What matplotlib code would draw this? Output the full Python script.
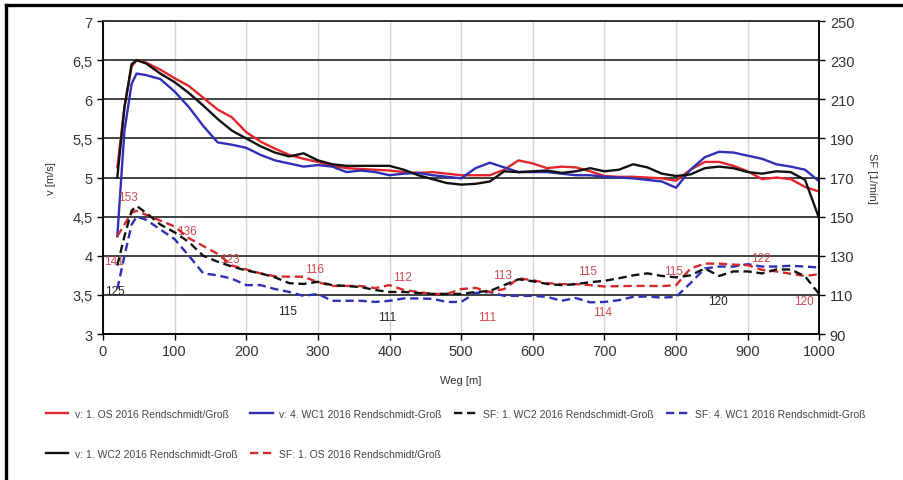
import matplotlib
matplotlib.use("Agg")
import matplotlib.pyplot as plt
from matplotlib.lines import Line2D

plt.rcParams['font.family'] = ['Liberation Sans Narrow', 'Liberation Sans', 'DejaVu Sans']

# distance along the course [m]
weg = [20, 30, 40, 47, 60, 80, 100, 120, 140, 160, 180, 200, 220, 240, 260, 280,
       300, 320, 340, 360, 380, 400, 420, 440, 460, 480, 500, 520, 540, 560, 580,
       600, 620, 640, 660, 680, 700, 720, 740, 760, 780, 800, 820, 840, 860, 880,
       900, 920, 940, 960, 980, 1000]

# boat speed [m/s]
v_os = [5.13, 5.9, 6.42, 6.5, 6.47, 6.38, 6.27, 6.17, 6.02, 5.87, 5.77, 5.58, 5.46,
        5.37, 5.29, 5.24, 5.2, 5.15, 5.12, 5.11, 5.1, 5.09, 5.07, 5.06, 5.07, 5.05,
        5.03, 5.03, 5.03, 5.1, 5.22, 5.18, 5.12, 5.14, 5.13, 5.08, 5.02, 5.01, 5.01,
        5.0, 4.99, 4.96, 5.1, 5.2, 5.2, 5.15, 5.08, 4.98, 5.0, 4.98, 4.88, 4.82]
v_wc1 = [4.25, 5.6, 6.2, 6.33, 6.31, 6.26, 6.1, 5.9, 5.66, 5.45, 5.42, 5.38, 5.29,
         5.22, 5.18, 5.14, 5.16, 5.14, 5.07, 5.09, 5.07, 5.03, 5.05, 5.06, 5.03,
         5.01, 4.99, 5.12, 5.19, 5.13, 5.07, 5.07, 5.07, 5.05, 5.03, 5.03, 5.01,
         5.0, 4.99, 4.97, 4.95, 4.87, 5.1, 5.26, 5.33, 5.32, 5.28, 5.24, 5.17, 5.14,
         5.1, 4.95]
v_wc2 = [5.0, 5.9, 6.45, 6.5, 6.46, 6.33, 6.22, 6.08, 5.92, 5.75, 5.6, 5.5, 5.4,
         5.32, 5.27, 5.31, 5.22, 5.17, 5.15, 5.15, 5.15, 5.15, 5.1, 5.03, 4.98,
         4.93, 4.91, 4.92, 4.95, 5.08, 5.07, 5.08, 5.09, 5.06, 5.08, 5.12, 5.08,
         5.1, 5.17, 5.13, 5.05, 5.02, 5.04, 5.12, 5.14, 5.12, 5.07, 5.05, 5.08,
         5.07, 4.97, 4.47]

# stroke rate [1/min]
sf_os = [140, 146, 152, 153, 151, 148, 145, 139, 135, 131, 125, 123, 121, 119.5,
         119.3, 119.3, 116.5, 114.6, 114.6, 114.5, 113.5, 115, 112.5, 111.5, 110.5,
         110.5, 113, 113.6, 111.5, 113, 118.5, 117.5, 116, 115.5, 115.5, 115, 114.3,
         114.5, 114.6, 114.6, 114.5, 115, 123.5, 126, 126, 125.5, 125.2, 122.8, 122,
         120.8, 119.7, 120.6]
sf_wc2 = [125, 140, 153, 155.5, 152, 146, 142, 137, 130, 127, 124.5, 122.5, 121,
          119, 116, 115.6, 116.7, 115, 114.6, 114, 112.5, 111.5, 111.5, 111, 110.5,
          110.5, 110.5, 111.5, 112, 115, 118, 117, 115.6, 115, 115.5, 116.5, 117.2,
          118.5, 120, 121, 119.7, 119, 120, 123.5, 119.7, 122, 122, 121, 123, 123,
          119.5, 110.3]
sf_wc1 = [113, 130, 146, 150, 148.5, 143.5, 138.5, 130, 121, 120, 118.3, 115, 115,
          113, 111.5, 109.5, 110.5, 107, 107, 107, 106.4, 107, 108.2, 108.2, 108,
          106.4, 106.4, 111, 111.5, 109.5, 109.5, 109.5, 109, 107, 108.4, 106.2,
          106.4, 107.3, 109, 109.2, 108.6, 109, 116, 123.5, 124.5, 124.5, 125.7,
          124.5, 124.5, 124.9, 124.5, 124]

# value labels written into the chart (x, SF, text, colour)
lab_x = [16, 17, 35, 117, 177, 257, 296, 397, 418, 536, 557, 677, 697, 796, 858, 918, 978]
lab_sf = [127.4, 112, 160.3, 142.8, 128.5, 101.8, 123.3, 98.7, 119.2, 98.7, 120.3,
          122.3, 101.3, 122.3, 106.9, 129, 106.9]
lab_txt = ['141', '125', '153', '136', '123', '115', '116', '111', '112', '111', '113',
           '115', '114', '115', '120', '122', '120']
lab_red = [1, 0, 1, 1, 1, 0, 1, 0, 1, 1, 1, 1, 1, 1, 0, 1, 1]

RED = '#e3262b'
BLUE = '#2f2fb5'
BLACK = '#111111'
LABRED = '#d0474d'

fig = plt.figure(figsize=(9.04, 4.81), dpi=100)
ax = fig.add_axes([0.1139, 0.3035, 0.7925, 0.6505])
ax2 = ax.twinx()

l_os, = ax.plot(weg, v_os, color=RED, lw=1.7, zorder=4)
l_wc1, = ax.plot(weg, v_wc1, color=BLUE, lw=1.7, zorder=4)
l_wc2, = ax.plot(weg, v_wc2, color=BLACK, lw=1.7, zorder=5)

d_wc2, = ax2.plot(weg, sf_wc2, color=BLACK, lw=1.7, ls=(0, (3.5, 2)), zorder=5)
d_wc1, = ax2.plot(weg, sf_wc1, color=BLUE, lw=1.7, ls=(0, (3.5, 2)), zorder=4)
d_os, = ax2.plot(weg, sf_os, color='#d42a2a', lw=1.7, ls=(0, (3.5, 2)), zorder=4)

for x, s, t, r in zip(lab_x, lab_sf, lab_txt, lab_red):
    ax2.text(x, s, t, color=LABRED if r else '#222222', fontsize=8.5,
             ha='center', va='center', zorder=2)

ax.set_xlim(0, 1000)
ax.set_ylim(3, 7)
ax2.set_ylim(90, 250)
ax.set_xticks(range(0, 1001, 100))
ax.set_yticks([3, 3.5, 4, 4.5, 5, 5.5, 6, 6.5, 7])
ax.set_yticklabels(['3', '3,5', '4', '4,5', '5', '5,5', '6', '6,5', '7'])
ax2.set_yticks(range(90, 251, 20))

ax.grid(axis='y', color='#333333', lw=1.3)
ax.grid(axis='x', color='#d4d4d4', lw=1.0)
ax.set_axisbelow(True)

for a in (ax, ax2):
    a.tick_params(labelsize=10.5, colors='#333333', length=4, width=1)
    a.tick_params(color='black')
    for s in a.spines.values():
        s.set_color('black')
        s.set_linewidth(1.1)
    a.spines['top'].set_color('#333333')

ax.set_xlabel('Weg [m]', fontsize=8, color='#333333', labelpad=12)
ax.set_ylabel('v [m/s]', fontsize=8, color='#333333', labelpad=12)
ax2.set_ylabel('SF [1/min]', fontsize=8, color='#333333', rotation=270, labelpad=16)

handles = [l_os, l_wc2, l_wc1, d_os, d_wc2, d_wc1]
names = ['v: 1. OS 2016 Rendschmidt/Groß', 'v: 1. WC2 2016 Rendschmidt-Groß',
         'v: 4. WC1 2016 Rendschmidt-Groß', 'SF: 1. OS 2016 Rendschmidt/Groß',
         'SF: 1. WC2 2016 Rendschmidt-Groß', 'SF: 4. WC1 2016 Rendschmidt-Groß']
leg = fig.legend(handles, names, ncol=4, loc='upper left', bbox_to_anchor=(0.04, 0.168),
                 frameon=False, handlelength=2.2, handletextpad=0.6,
                 columnspacing=1.2, labelspacing=2.9,
                 prop={'family': ['Liberation Sans', 'DejaVu Sans'], 'size': 7.5})
for t in leg.get_texts():
    t.set_color('#444444')

# frame edges at top and left of the picture
fig.add_artist(Line2D([0.0066, 1.0], [0.988, 0.988], color='black', lw=2.4,
                      transform=fig.transFigure))
fig.add_artist(Line2D([0.0066, 0.0066], [0.0, 0.988], color='black', lw=2.4,
                      transform=fig.transFigure))

fig.savefig('out.png', dpi=100)
